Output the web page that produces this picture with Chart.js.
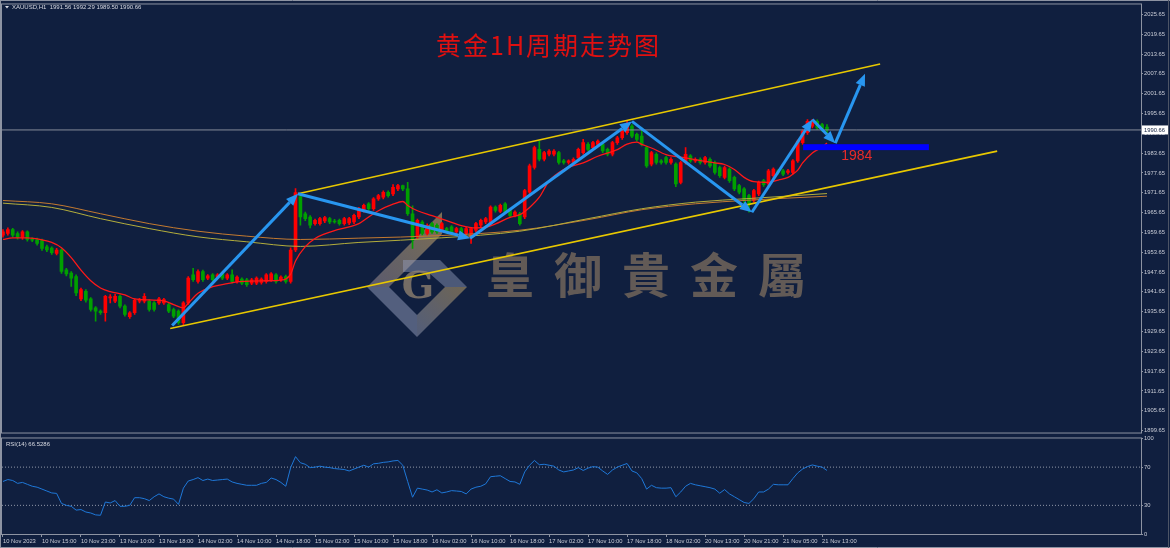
<!DOCTYPE html>
<html>
<head>
<meta charset="utf-8">
<script src="https://cdn.jsdelivr.net/npm/chart.js@4.4.0/dist/chart.umd.min.js"></script>
<style>
  html, body { margin: 0; padding: 0; background: #101f3f; }
  #wrap { position: relative; width: 1170px; height: 548px; overflow: hidden; background: #101f3f; }
  #mainChart { position: absolute; left: 0; top: 0; }
  #rsiChart { position: absolute; left: 0; top: 434px; }
</style>
</head>
<body>
<div id="wrap">
  <canvas id="mainChart" width="1170" height="437"></canvas>
  <canvas id="rsiChart" width="1170" height="114"></canvas>
</div>
<script>
// XAUUSD H1, 10 Nov 07:00 .. 21 Nov 14:00 (170 bars)
const openP = [
  1958.8,1959.3,1960.5,1959.3,1958.1,1959.8,1957.6,1957.4,1957.2,1955.3,
  1954.9,1953.3,1954.3,1948.3,1947.3,1946.3,1939.5,1941.8,1939.5,1936.8,
  1935.8,1935.3,1939.8,1938.8,1940.3,1937.3,1934.1,1935.3,1938.8,1938.8,
  1938.8,1938.3,1938.3,1938.3,1937.8,1936.3,1935.8,1932.3,1938.3,1946.8,
  1944.8,1947.8,1945.8,1946.8,1946.1,1947.3,1945.8,1946.8,1944.8,1945.5,
  1945.3,1944.3,1944.3,1944.5,1944.8,1945.3,1946.8,1945.3,1946.3,1944.8,
  1954.3,1970.5,1965.3,1964.3,1962.3,1962.3,1963.1,1963.8,1963.0,1963.3,
  1962.3,1962.5,1962.8,1964.3,1966.3,1968.3,1966.8,1969.8,1970.3,1971.8,
  1971.3,1972.8,1973.8,1972.8,1965.3,1958.3,1962.8,1959.3,1962.3,1961.8,
  1960.3,1960.8,1961.3,1959.8,1960.8,1959.3,1958.3,1960.3,1961.8,1962.8,
  1962.3,1967.3,1966.0,1968.3,1966.3,1964.8,1965.3,1964.3,1971.8,1979.3,
  1984.8,1981.8,1983.3,1983.3,1983.8,1981.3,1980.8,1980.8,1982.3,1983.8,
  1986.3,1985.3,1986.3,1986.3,1984.8,1983.3,1986.8,1988.3,1989.8,1991.8,
  1989.3,1988.8,1985.3,1980.3,1983.3,1981.3,1982.3,1980.8,1980.3,1974.8,
  1980.8,1982.8,1981.3,1981.8,1980.8,1981.8,1980.8,1979.3,1976.3,1978.8,
  1976.3,1973.8,1972.8,1970.8,1969.3,1971.3,1975.3,1974.3,1976.8,1978.3,
  1978.3,1977.8,1977.8,1981.3,1986.8,1989.8,1991.8,1993.3,1992.3,1991.56
];
const highP = [
  1960.5,1961.0,1960.9,1959.8,1960.2,1960.1,1958.1,1957.9,1957.6,1955.8,
  1955.3,1954.8,1954.7,1948.8,1947.8,1946.8,1942.8,1942.3,1939.9,1937.2,
  1936.2,1940.6,1940.8,1940.9,1940.7,1937.7,1935.7,1939.5,1939.7,1941.1,
  1939.2,1938.7,1940.0,1939.7,1938.3,1936.7,1936.2,1938.7,1946.3,1948.8,
  1948.3,1948.2,1946.9,1947.2,1947.2,1947.7,1947.2,1948.3,1946.5,1945.9,
  1945.7,1945.7,1946.2,1945.9,1947.2,1947.5,1947.2,1946.5,1946.7,1955.0,
  1972.9,1970.8,1965.8,1964.7,1963.7,1964.2,1964.5,1964.2,1963.6,1963.7,
  1964.2,1964.2,1965.2,1967.2,1968.2,1968.7,1970.2,1971.2,1972.2,1972.2,
  1974.1,1974.2,1974.0,1974.8,1967.7,1963.7,1963.2,1962.2,1962.7,1962.2,
  1962.7,1961.2,1961.7,1961.2,1961.2,1961.2,1961.2,1962.7,1963.7,1964.2,
  1967.7,1967.7,1968.2,1968.7,1966.7,1966.2,1965.7,1972.7,1980.3,1985.8,
  1987.3,1984.2,1984.7,1984.7,1984.2,1981.8,1981.6,1982.2,1985.2,1987.8,
  1986.8,1987.2,1987.7,1986.7,1985.2,1987.2,1988.7,1990.7,1993.3,1992.3,
  1989.7,1991.3,1985.8,1984.2,1983.7,1981.7,1982.7,1982.3,1980.7,1981.2,
  1985.3,1983.2,1982.2,1982.2,1982.7,1982.2,1981.2,1979.7,1979.7,1979.2,
  1976.7,1974.2,1973.2,1971.2,1972.7,1975.2,1975.7,1978.7,1979.2,1978.7,
  1978.7,1978.7,1981.7,1987.7,1990.7,1993.8,1993.9,1993.7,1992.7,1992.29
];
const lowP = [
  1958.2,1958.8,1958.3,1957.6,1957.5,1957.0,1956.8,1955.8,1954.2,1953.8,
  1953.0,1952.8,1947.2,1946.5,1943.3,1940.5,1939.0,1938.5,1935.8,1932.8,
  1934.8,1932.8,1938.3,1938.4,1936.8,1934.3,1933.6,1934.8,1938.3,1938.3,
  1935.8,1935.8,1937.8,1937.8,1935.3,1933.8,1931.8,1931.6,1937.8,1944.8,
  1944.3,1944.8,1945.3,1944.8,1945.6,1945.3,1945.3,1944.3,1944.3,1943.8,
  1943.3,1943.8,1943.8,1944.0,1944.3,1944.8,1944.3,1944.8,1944.3,1944.3,
  1953.8,1961.8,1963.2,1961.0,1961.8,1961.8,1962.6,1962.3,1962.4,1961.8,
  1961.8,1962.0,1962.3,1963.8,1965.8,1966.3,1966.3,1969.3,1969.8,1970.3,
  1970.8,1972.3,1972.3,1964.8,1954.8,1957.8,1958.8,1958.8,1959.3,1959.3,
  1959.8,1959.3,1958.8,1959.3,1958.8,1958.8,1956.3,1959.8,1961.3,1962.3,
  1961.8,1965.8,1965.6,1965.3,1964.3,1964.3,1961.8,1963.8,1971.3,1978.8,
  1981.3,1981.3,1982.8,1982.8,1980.3,1980.3,1980.3,1980.3,1981.8,1983.3,
  1984.3,1984.8,1985.8,1983.8,1982.8,1982.8,1986.3,1987.8,1989.3,1988.3,
  1987.3,1985.8,1979.3,1979.8,1980.3,1980.3,1980.3,1980.3,1973.5,1974.3,
  1980.3,1980.8,1980.8,1980.3,1980.3,1979.3,1977.3,1976.3,1975.8,1974.8,
  1972.3,1971.3,1967.0,1965.8,1968.8,1970.8,1973.6,1973.8,1976.3,1977.3,
  1976.8,1977.3,1977.3,1980.8,1986.3,1989.3,1991.3,1990.8,1990.3,1989.50
];
const closeP = [
  1959.8,1960.5,1958.8,1958.1,1959.8,1957.5,1957.3,1956.3,1954.8,1954.3,
  1953.5,1954.3,1947.8,1947.1,1945.8,1941.3,1942.3,1939.1,1936.3,1935.8,
  1935.3,1940.3,1940.0,1940.3,1937.3,1934.8,1935.3,1939.1,1939.3,1940.3,
  1936.3,1936.3,1939.5,1939.3,1935.8,1934.3,1932.3,1938.3,1945.8,1945.3,
  1947.8,1945.3,1946.5,1945.3,1946.8,1945.8,1946.8,1944.8,1946.1,1944.3,
  1943.8,1945.3,1945.8,1945.5,1946.8,1947.1,1944.8,1946.1,1944.8,1954.3,
  1971.7,1964.3,1963.8,1961.8,1963.3,1963.8,1964.1,1962.8,1962.8,1962.3,
  1963.8,1963.8,1964.8,1966.8,1967.8,1966.8,1969.8,1970.8,1971.8,1970.8,
  1973.3,1973.8,1972.8,1965.3,1957.3,1963.3,1959.3,1961.8,1959.8,1959.8,
  1962.3,1960.0,1959.3,1960.8,1959.3,1960.8,1960.8,1962.3,1963.3,1963.8,
  1967.3,1966.3,1967.8,1965.8,1964.8,1965.8,1962.3,1972.3,1979.8,1985.3,
  1981.8,1983.8,1984.3,1984.3,1980.8,1980.8,1981.3,1981.8,1984.8,1986.8,
  1984.8,1986.8,1987.3,1984.3,1983.3,1986.8,1988.3,1990.3,1992.3,1988.8,
  1987.8,1986.3,1979.8,1983.8,1980.8,1980.8,1980.8,1981.8,1974.3,1980.8,
  1983.3,1981.3,1981.8,1980.8,1982.3,1979.8,1977.8,1976.8,1979.3,1975.3,
  1972.8,1971.8,1969.3,1968.3,1972.3,1974.8,1974.1,1978.3,1978.8,1977.8,
  1977.3,1978.3,1981.3,1987.3,1990.3,1993.3,1993.3,1991.3,1990.8,1990.66
];

// RSI(14), one value per bar
const rsiVals = [
  55,57,56,53,54,52,50,49,47,45,
  43,42.5,32,30,29,25,25.6,23,22,20,
  19.6,33.5,32.5,35,29,29,30,38,38,37,
  35,39,42,39,37.5,36.5,31,48,55.5,57,
  59,56,57.5,56,56.5,57,57.5,54.5,53,52,
  51,51,51,53,54,58.6,57,54,50,69.5,
  81,74.6,73,69.5,70,71,70,69.5,68.5,68,
  67.5,66,68,70,72,70,73.5,74,75,75.5,
  76.5,77,72,55,38.5,48,47,46,44,46.3,
  43,44,45.4,45,44.5,42,47,49,50,52.5,
  60,60.5,61,58,55,54.5,52,65,72,77,
  72.5,73,72,71,67,65,66,67,69.5,66.5,
  69,70.5,70,66,62.4,67,70,72,73.8,66,
  64,58,47,51,48.5,48,48,48.5,39,44,
  50,53,51.5,50.5,49.5,48.5,47,42.7,46.5,42,
  39,36,33,32,37,44,44,47,52,51.5,
  51.5,51.5,58,64,68,70.6,72.3,71,70,66.53
];

// moving averages (bar index -> price)
const maRedBars = [0,2,5,8,10,12,14,16,18,20,22,25,27,30,33,35,37,38,40,43,46,49,54,57,59,60,62,64,66,68,71,73,75,77,80,82,83,85,88,91,94,97,99,101,104,106,108,110,112,115,119,122,126,128,130,131,133,136,140,143,146,148,150,152,154,157,159,161,162,163,164,166,168,169];
const maRedVals = [1957.5,1958.0,1958.0,1957.4,1956.6,1955.0,1952.0,1948.2,1945.0,1942.8,1941.7,1940.7,1939.5,1939.2,1938.9,1937.8,1936.8,1938.2,1941.2,1943.2,1944.1,1944.8,1945.0,1945.2,1947.0,1951.0,1955.3,1957.8,1959.2,1960.2,1961.3,1962.3,1964.3,1966.2,1968.2,1969.0,1967.8,1966.2,1964.7,1963.2,1961.7,1961.0,1961.2,1962.2,1964.2,1965.0,1967.2,1970.3,1975.2,1978.7,1980.7,1982.7,1984.7,1986.4,1987.0,1986.3,1985.2,1983.2,1982.2,1981.4,1980.7,1980.2,1978.7,1976.3,1975.0,1974.8,1975.5,1976.3,1977.3,1978.5,1980.7,1983.7,1985.5,1986.7];
const maSlowBars = [0,10,20,30,40,50,61,73,90,106,120,131,142,153,169];
const maOrangeVals = [1969.3,1968.3,1965.3,1962.3,1960.0,1958.5,1957.5,1957.9,1958.7,1960.3,1963.5,1966.5,1968.3,1969.4,1970.6];
const maOliveVals  = [1968.5,1967.2,1963.8,1960.8,1958.3,1956.8,1955.4,1956.6,1958.0,1960.0,1963.8,1966.8,1968.8,1969.9,1971.4];

// drawn analysis: channel, zigzag, target bar
const chUpperBars = [60.5, 179.9],  chUpperPrices = [1971.35, 2010.65];
const chLowerBars = [34.3, 203.9],  chLowerPrices = [1930.55, 1984.25];
const zigBars   = [34.7, 60.5, 95.8, 129.0, 153.6, 166.0, 170.7, 176.8];
const zigPrices = [1931.45, 1971.35, 1957.85, 1993.25, 1965.75, 1993.85, 1986.65, 2007.65];
const targetBars = [164.1, 189.9], targetPrices = [1986.35, 1984.55];
const targetLabel = '1984', targetLabelBar = 175.1, targetLabelPrice = 1982.7;

// axes
const tickBars = [0,8,16,24,32,40,48,56,64,72,80,88,96,104,112,120,128,136,144,152,160,168];
const tickLabels = ['10 Nov 2023','10 Nov 15:00','10 Nov 23:00','13 Nov 10:00','13 Nov 18:00','14 Nov 02:00','14 Nov 10:00','14 Nov 18:00','15 Nov 02:00','15 Nov 10:00','15 Nov 18:00','16 Nov 02:00','16 Nov 10:00','16 Nov 18:00','17 Nov 02:00','17 Nov 10:00','17 Nov 18:00','18 Nov 02:00','20 Nov 13:00','20 Nov 21:00','21 Nov 05:00','21 Nov 13:00'];
const priceTicks = [1899.65,1905.65,1911.65,1917.65,1923.65,1929.65,1935.65,1941.65,1947.65,1953.65,1959.65,1965.65,1971.65,1977.65,1983.65,1989.65,1995.65,2001.65,2007.65,2013.65,2019.65,2025.65];
const rsiTicks = [0, 30, 70, 100];
const rsiLevels = [70, 30];

const X_MIN = -0.2, X_MAX = 233.4;
const P_MIN = 1899.05, P_MAX = 2028.65;

const upCol = '#ff0000', downCol = '#00a000';
const frameCol = '#8d93a2';
const axisTextCol = '#c9ccd6';
const axisFont = { family: 'Liberation Sans', size: 5.8 };

const bars = closeP.map((c, i) => i);
const candleCol = bars.map(i => closeP[i] >= openP[i] ? upCol : downCol);
const lastClose = closeP[closeP.length - 1];

function arrow(ctx, x1, y1, x2, y2) {
  const a = Math.atan2(y2 - y1, x2 - x1);
  const head = 12, half = 5;
  const bx = x2 - head * Math.cos(a), by = y2 - head * Math.sin(a);
  ctx.beginPath(); ctx.moveTo(x1, y1); ctx.lineTo(bx, by); ctx.stroke();
  ctx.beginPath();
  ctx.moveTo(x2, y2);
  ctx.lineTo(bx + half * Math.sin(a), by - half * Math.cos(a));
  ctx.lineTo(bx - half * Math.sin(a), by + half * Math.cos(a));
  ctx.closePath(); ctx.fill();
}

function poly(ctx, pts, fill) {
  ctx.beginPath();
  pts.forEach((p, k) => k ? ctx.lineTo(p[0], p[1]) : ctx.moveTo(p[0], p[1]));
  ctx.closePath();
  ctx.fillStyle = fill;
  ctx.fill();
}

// watermark: logo + company name
function drawWatermark(ctx) {
  ctx.save();
  const gold = ctx.createLinearGradient(367, 287, 442, 212);
  gold.addColorStop(0, 'rgba(150,140,150,0.55)');
  gold.addColorStop(1, 'rgba(200,165,95,0.6)');
  poly(ctx, [[367,287],[442,212],[442,234],[389,287]], gold);
  poly(ctx, [[367,287],[389,287],[417,315],[417,337]], 'rgba(150,160,190,0.5)');
  const gold2 = ctx.createLinearGradient(417, 337, 467, 287);
  gold2.addColorStop(0, 'rgba(150,155,180,0.5)');
  gold2.addColorStop(1, 'rgba(190,160,100,0.55)');
  poly(ctx, [[417,337],[417,315],[445,287],[467,287]], gold2);
  poly(ctx, [[403,260],[440,260],[467,287],[445,287],[428,272],[403,272]], 'rgba(150,160,190,0.45)');
  ctx.font = 'bold 38px "DejaVu Serif", serif';
  ctx.textAlign = 'center';
  ctx.textBaseline = 'middle';
  ctx.fillStyle = 'rgba(150,135,115,0.75)';
  ctx.fillText('G', 418, 288);

  ctx.font = 'bold 48px "Noto Sans CJK TC"';
  ctx.textAlign = 'left';
  ctx.fillStyle = 'rgba(165,138,105,0.55)';
  const name = '皇御貴金屬';
  for (let k = 0; k < name.length; k++) ctx.fillText(name[k], 486 + k * 68, 275);
  ctx.restore();
}

const mainOverlay = {
  id: 'mainOverlay',
  beforeDatasetsDraw(chart) {
    drawWatermark(chart.ctx);
  },
  afterDatasetsDraw(chart) {
    const { ctx, scales: { x, y }, chartArea: ca } = chart;
    ctx.save();
    ctx.beginPath();
    ctx.rect(ca.left, ca.top, ca.right - ca.left, ca.bottom - ca.top);
    ctx.clip();

    // channel
    ctx.strokeStyle = '#e8c800';
    ctx.lineWidth = 1.6;
    [[chUpperBars, chUpperPrices], [chLowerBars, chLowerPrices]].forEach(([b, p]) => {
      ctx.beginPath();
      ctx.moveTo(x.getPixelForValue(b[0]), y.getPixelForValue(p[0]));
      ctx.lineTo(x.getPixelForValue(b[1]), y.getPixelForValue(p[1]));
      ctx.stroke();
    });

    // target bar + label
    const tx1 = x.getPixelForValue(targetBars[0]), tx2 = x.getPixelForValue(targetBars[1]);
    const ty1 = y.getPixelForValue(targetPrices[0]), ty2 = y.getPixelForValue(targetPrices[1]);
    ctx.fillStyle = '#0000ff';
    ctx.fillRect(tx1, ty1, tx2 - tx1, ty2 - ty1);
    ctx.fillStyle = '#e82a2a';
    ctx.font = '14px "Liberation Sans"';
    ctx.textAlign = 'center';
    ctx.textBaseline = 'middle';
    ctx.fillText(targetLabel, x.getPixelForValue(targetLabelBar), y.getPixelForValue(targetLabelPrice));

    // zigzag arrows
    ctx.strokeStyle = '#2896f0';
    ctx.fillStyle = '#2896f0';
    ctx.lineWidth = 3;
    ctx.lineCap = 'butt';
    for (let k = 1; k < zigBars.length; k++) {
      arrow(ctx,
        x.getPixelForValue(zigBars[k - 1]), y.getPixelForValue(zigPrices[k - 1]),
        x.getPixelForValue(zigBars[k]), y.getPixelForValue(zigPrices[k]));
    }
    ctx.restore();

    // title
    ctx.save();
    ctx.fillStyle = '#e01010';
    ctx.font = '25px "Noto Sans CJK SC"';
    ctx.letterSpacing = '2px';
    ctx.textAlign = 'left';
    ctx.textBaseline = 'middle';
    ctx.fillText('黄金1H周期走势图', 436, 45);
    ctx.restore();
  },
  afterDraw(chart) {
    const { ctx, scales: { y }, chartArea: ca } = chart;
    ctx.save();
    // frame
    ctx.strokeStyle = frameCol;
    ctx.lineWidth = 1;
    ctx.strokeRect(ca.left - 0.5, ca.top - 0.5, ca.right - ca.left + 1, ca.bottom - ca.top + 1);
    ctx.beginPath();
    ctx.moveTo(0, 0.5); ctx.lineTo(1170, 0.5);
    ctx.moveTo(0.5, 0); ctx.lineTo(0.5, 437);
    ctx.stroke();
    ctx.strokeStyle = '#4c5466';
    ctx.beginPath();
    ctx.moveTo(1168.5, 0); ctx.lineTo(1168.5, 437);
    ctx.stroke();

    // symbol header
    ctx.fillStyle = '#d8dae2';
    ctx.beginPath();
    ctx.moveTo(5, 6); ctx.lineTo(9, 6); ctx.lineTo(7, 8.5); ctx.closePath(); ctx.fill();
    ctx.font = '6px "Liberation Sans"';
    ctx.textAlign = 'left';
    ctx.textBaseline = 'middle';
    ctx.fillText('XAUUSD,H1  1991.56 1992.29 1989.50 1990.66', 12, 7.5);

    // current price box
    const py = y.getPixelForValue(lastClose);
    ctx.fillStyle = '#ffffff';
    ctx.fillRect(ca.right + 1, py - 4.5, 26, 9);
    ctx.fillStyle = '#101f3f';
    ctx.font = axisFont.size + 'px "Liberation Sans"';
    ctx.fillText(lastClose.toFixed(2), ca.right + 3, py + 0.5);
    ctx.restore();
  }
};

new Chart(document.getElementById('mainChart'), {
  type: 'bar',
  data: {
    datasets: [
      { type: 'line', data: [{ x: X_MIN, y: lastClose }, { x: X_MAX, y: lastClose }],
        borderColor: '#858b99', borderWidth: 1, pointRadius: 0 },
      { type: 'line', data: maRedBars.map((b, k) => ({ x: b, y: maRedVals[k] })),
        borderColor: '#ff1818', borderWidth: 1.3, pointRadius: 0, cubicInterpolationMode: 'monotone' },
      { type: 'line', data: maSlowBars.map((b, k) => ({ x: b, y: maOliveVals[k] })),
        borderColor: '#b4ae3c', borderWidth: 1, pointRadius: 0, cubicInterpolationMode: 'monotone' },
      { type: 'line', data: maSlowBars.map((b, k) => ({ x: b, y: maOrangeVals[k] })),
        borderColor: '#c47a30', borderWidth: 1, pointRadius: 0, cubicInterpolationMode: 'monotone' },
      { type: 'bar', data: bars.map(i => ({ x: i, y: [openP[i], closeP[i]] })),
        backgroundColor: candleCol, barThickness: 3, grouped: false, minBarLength: 1, borderWidth: 0 },
      { type: 'bar', data: bars.map(i => ({ x: i, y: [lowP[i], highP[i]] })),
        backgroundColor: candleCol, barThickness: 1, grouped: false, borderWidth: 0 }
    ]
  },
  options: {
    responsive: false,
    animation: false,
    events: [],
    layout: { padding: { left: 2, right: 0, top: 2, bottom: 3 } },
    plugins: { legend: { display: false }, tooltip: { enabled: false } },
    scales: {
      x: { type: 'linear', min: X_MIN, max: X_MAX, offset: false, display: false },
      y: {
        position: 'right', min: P_MIN, max: P_MAX,
        afterBuildTicks: s => { s.ticks = priceTicks.map(v => ({ value: v })); },
        afterFit: s => { s.width = 29; },
        ticks: { color: axisTextCol, font: axisFont, padding: 1, callback: v => v.toFixed(2) },
        grid: { drawOnChartArea: false, tickLength: 2, color: frameCol },
        border: { color: frameCol }
      }
    }
  },
  plugins: [mainOverlay]
});

const rsiOverlay = {
  id: 'rsiOverlay',
  afterDraw(chart) {
    const { ctx, chartArea: ca } = chart;
    ctx.save();
    ctx.strokeStyle = frameCol;
    ctx.lineWidth = 1;
    ctx.strokeRect(ca.left - 0.5, ca.top - 0.5, ca.right - ca.left + 1, ca.bottom - ca.top + 1);
    ctx.beginPath();
    ctx.moveTo(0.5, 0); ctx.lineTo(0.5, 114);
    ctx.moveTo(0, 113.5); ctx.lineTo(1170, 113.5);
    ctx.stroke();
    ctx.strokeStyle = '#4c5466';
    ctx.beginPath();
    ctx.moveTo(1168.5, 0); ctx.lineTo(1168.5, 114);
    ctx.stroke();
    ctx.fillStyle = '#d8dae2';
    ctx.font = '6px "Liberation Sans"';
    ctx.textBaseline = 'middle';
    ctx.fillText('RSI(14) 66.5286', ca.left + 4, ca.top + 5.5);
    ctx.restore();
  }
};

new Chart(document.getElementById('rsiChart'), {
  type: 'line',
  data: {
    datasets: [
      { data: bars.map(i => ({ x: i, y: rsiVals[i] })), borderColor: '#1f78d8', borderWidth: 1, pointRadius: 0 },
      ...rsiLevels.map(l => ({ data: [{ x: X_MIN, y: l }, { x: X_MAX, y: l }],
        borderColor: '#9098a8', borderWidth: 1, borderDash: [1, 2], pointRadius: 0 }))
    ]
  },
  options: {
    responsive: false,
    animation: false,
    events: [],
    layout: { padding: { left: 2, right: 0, top: 3, bottom: 2 } },
    plugins: { legend: { display: false }, tooltip: { enabled: false } },
    scales: {
      x: {
        type: 'linear', min: X_MIN, max: X_MAX, offset: false,
        afterBuildTicks: s => { s.ticks = tickBars.map(v => ({ value: v })); },
        afterFit: s => { s.height = 12; },
        ticks: { color: axisTextCol, font: axisFont, align: 'start', maxRotation: 0, autoSkip: false, padding: 1,
                 callback: (v, idx) => tickLabels[idx] },
        grid: { drawOnChartArea: false, tickLength: 3, color: frameCol },
        border: { color: frameCol }
      },
      y: {
        position: 'right', min: 0, max: 100,
        afterBuildTicks: s => { s.ticks = rsiTicks.map(v => ({ value: v })); },
        afterFit: s => { s.width = 29; },
        ticks: { color: axisTextCol, font: axisFont, padding: 1 },
        grid: { drawOnChartArea: false, tickLength: 2, color: frameCol },
        border: { color: frameCol }
      }
    }
  },
  plugins: [rsiOverlay]
});
</script>
</body>
</html>
